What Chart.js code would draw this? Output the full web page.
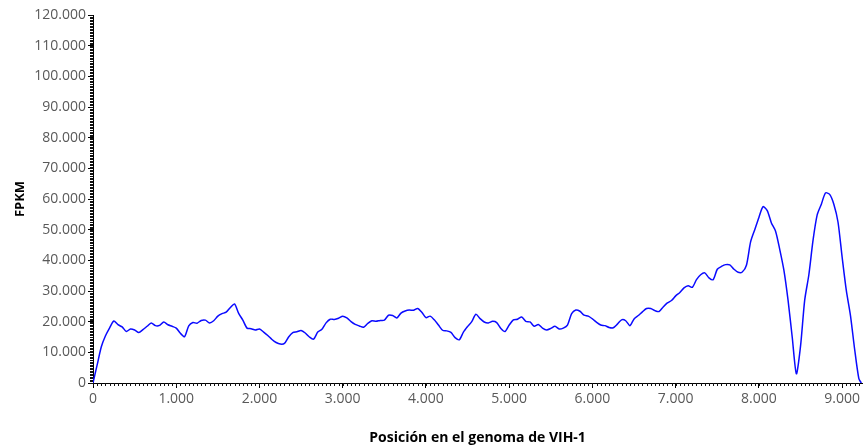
<!DOCTYPE html>
<html>
<head>
<meta charset="utf-8">
<script src="https://cdn.jsdelivr.net/npm/chart.js@4.4.1/dist/chart.umd.min.js"></script>
<style>
  html, body { margin: 0; padding: 0; background: #fff; }
  #wrap { width: 863px; height: 446px; }
</style>
</head>
<body>
<div id="wrap"><canvas id="myChart"></canvas></div>
<script>
//-- data ---->
var posiciones = [0,50,100,150,200,250,300,350,400,450,500,550,600,650,700,750,800,850,900,950,
  1000,1050,1100,1150,1200,1250,1300,1350,1400,1450,1500,1550,1600,1650,1700,1750,1800,1850,1900,1950,
  2000,2050,2100,2150,2200,2250,2300,2350,2400,2450,2500,2550,2600,2650,2700,2750,2800,2850,2900,2950,
  3000,3050,3100,3150,3200,3250,3300,3350,3400,3450,3500,3550,3600,3650,3700,3750,3800,3850,3900,3950,
  4000,4050,4100,4150,4200,4250,4300,4350,4400,4450,4500,4550,4600,4650,4700,4750,4800,4850,4900,4950,
  5000,5050,5100,5150,5200,5250,5300,5350,5400,5450,5500,5550,5600,5650,5700,5750,5800,5850,5900,5950,
  6000,6050,6100,6150,6200,6250,6300,6350,6400,6450,6500,6550,6600,6650,6700,6750,6800,6850,6900,6950,
  7000,7050,7100,7150,7200,7250,7300,7350,7400,7450,7500,7550,7600,7650,7700,7750,7800,7850,7900,7950,
  8000,8050,8100,8150,8200,8250,8300,8350,8400,8450,8500,8550,8600,8650,8700,8750,8800,8850,8900,8950,
  9000,9050,9100,9150,9200,9230];
var fpkm = [0,5900,11800,15400,18000,20200,19000,18300,16800,17600,17300,16500,17400,18500,19600,18700,18800,19900,19000,18500,
  17900,16200,15100,18600,19700,19500,20400,20500,19600,20300,21800,22600,23100,24600,25800,22700,20500,17900,17700,17300,
  17600,16600,15500,14200,13200,12700,12900,15000,16400,16700,17100,16300,15000,14300,16600,17500,19600,20800,20700,21100,
  21800,21200,20000,19100,18600,18200,19400,20300,20100,20400,20500,22100,22000,21200,22800,23500,23800,23700,24300,23100,
  21300,21800,20600,18900,17200,17000,16500,14800,14100,16600,18400,20000,22400,21000,19900,19600,20100,19700,17800,16800,
  18900,20600,20800,21500,20100,19900,18500,19100,17900,17300,17800,18500,17600,17900,18900,22600,23800,23400,22100,21800,
  20900,19800,18900,18700,18100,18000,19200,20600,20300,18700,20900,22000,23200,24300,24300,23600,23300,24800,26100,26900,
  28400,29500,31000,31700,31200,33700,35300,35900,34300,33700,37100,38000,38600,38500,37100,36100,36200,38400,46000,50000,
  54000,57500,56200,52200,49500,43600,36800,27000,15000,3000,12000,27000,35300,46500,54800,58300,62000,61500,58300,52500,
  41000,30200,22000,11000,1500,0];

var xMax = 9240;        //-- axis runs off the right edge
var yMax = 120000;
var xPaso = 1000, xMenor = 50;
var yPaso = 10000, yMenor = 500;
var tituloX = 'Posición en el genoma de VIH-1';
var tituloY = 'FPKM';

//-- 1.000 style labels
function miles(v) {
  return String(v).replace(/\B(?=(\d{3})+(?!\d))/g, '.');
}

var puntos = [];
for (let i = 0; i < posiciones.length; i++) {
  puntos.push({ x: posiciones[i], y: fpkm[i] });
}

//-------------------------------- minor ticks on both axes ------------------------------------->
var minorTicks = {
  id: 'minorTicks',
  afterDraw(chart) {
    let ctx = chart.ctx;
    let sx = chart.scales.x, sy = chart.scales.y;
    ctx.save();
    ctx.strokeStyle = '#111';
    ctx.lineWidth = 1;
    ctx.beginPath();
    for (let v = 0; v <= xMax; v += xMenor) {
      let px = Math.round(sx.getPixelForValue(v)) + 0.5;
      ctx.moveTo(px, sx.top);
      ctx.lineTo(px, sx.top + 3);
    }
    for (let v = 0; v <= yMax; v += yMenor) {
      let py = Math.round(sy.getPixelForValue(v)) + 0.5;
      ctx.moveTo(sy.right, py);
      ctx.lineTo(sy.right - 3, py);
    }
    ctx.stroke();
    ctx.restore();
  }
};

var ctx = document.getElementById('myChart');
var myChart = new Chart(ctx, {
  type: 'line',
  data: {
    datasets: [{
      data: puntos,
      borderColor: '#0a0aff',
      borderWidth: 1.5,
      pointRadius: 0,
      tension: 0.25
    }]
  },
  options: {
    responsive: true,
    maintainAspectRatio: false,
    animation: false,
    layout: { padding: { top: 15, right: 0, left: 0, bottom: 0 } },
    plugins: { legend: { display: false }, tooltip: { enabled: false } },
    scales: {
      x: {
        type: 'linear',
        min: 0,
        max: xMax,
        afterBuildTicks: function (s) {
          s.ticks = [];
          for (let v = 0; v <= 9000; v += xPaso) s.ticks.push({ value: v });
        },
        afterFit: function (s) { s.height = 63; },
        border: { color: '#000', width: 1 },
        grid: { drawOnChartArea: false, tickLength: 5, color: '#000' },
        ticks: {
          color: '#595959',
          font: { family: 'Open Sans', size: 14 },
          padding: 3,
          maxRotation: 0,
          callback: function (v) { return miles(v); }
        },
        title: {
          display: true,
          text: tituloX,
          color: '#000',
          font: { family: 'Open Sans', size: 14, weight: 'bold' },
          padding: { top: 22, bottom: 0 }
        }
      },
      y: {
        min: 0,
        max: yMax,
        afterBuildTicks: function (s) {
          s.ticks = [];
          for (let v = 0; v <= yMax; v += yPaso) s.ticks.push({ value: v });
        },
        afterFit: function (s) { s.width = 93; },
        border: { color: '#000', width: 1 },
        grid: { drawOnChartArea: false, tickLength: 5, color: '#000' },
        ticks: {
          color: '#595959',
          font: { family: 'Open Sans', size: 14 },
          padding: 2,
          callback: function (v) { return miles(v); }
        },
        title: {
          display: true,
          text: tituloY,
          color: '#000',
          font: { family: 'Open Sans', size: 13, weight: 'bold' },
          padding: { top: 12, bottom: 0 }
        }
      }
    }
  },
  plugins: [minorTicks]
});
</script>
</body>
</html>
